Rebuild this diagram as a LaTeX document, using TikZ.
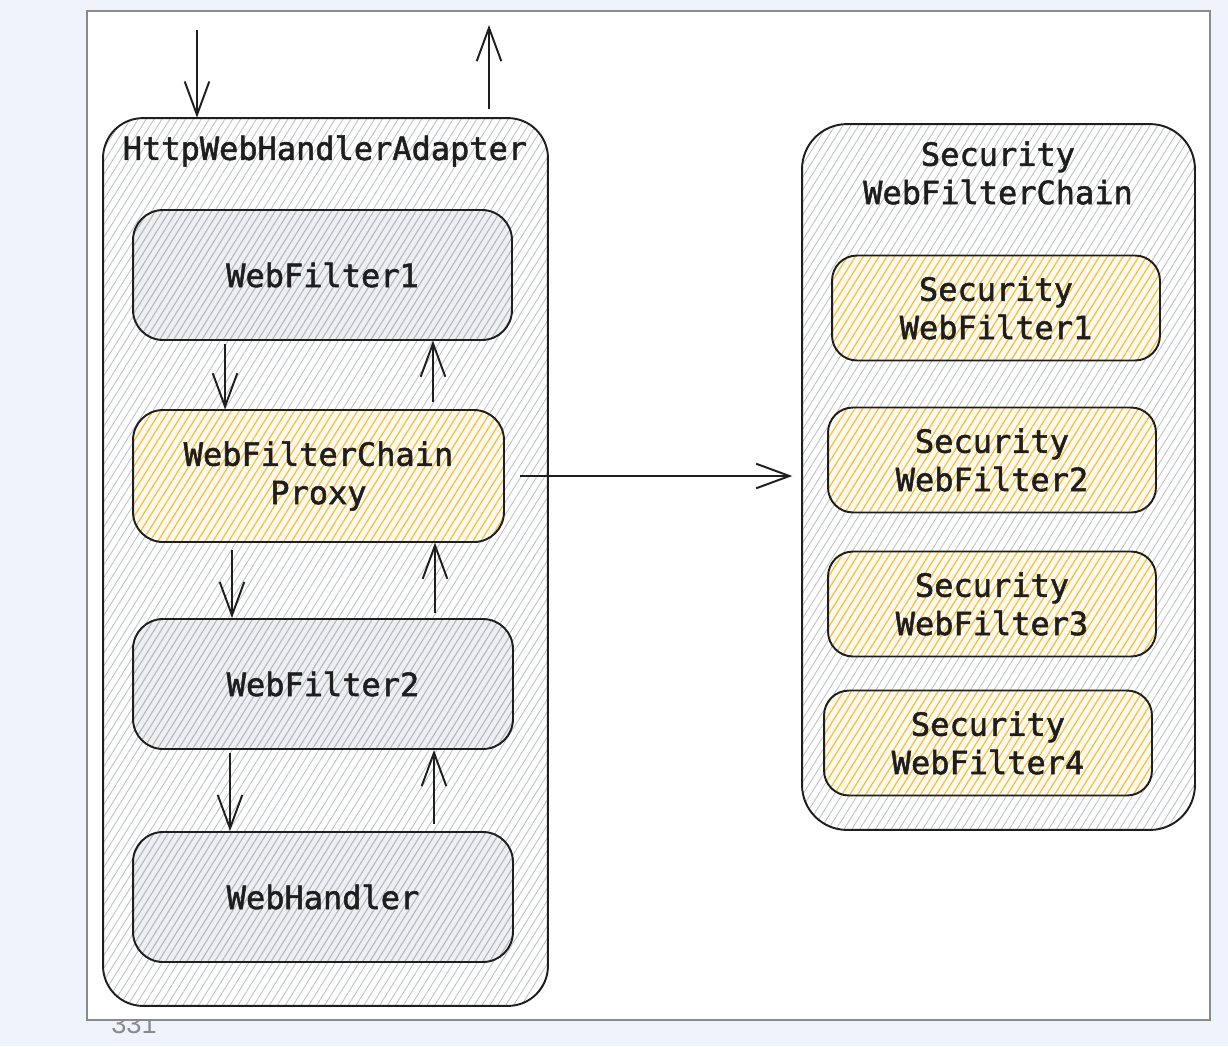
\documentclass[tikz,border=0pt]{standalone}
\usepackage{fontspec}
\setmainfont{Liberation Sans}
\newfontfamily\boxfont[FakeBold=1.6]{DejaVu Sans Mono}
\usetikzlibrary{patterns.meta,arrows.meta}
\definecolor{pagebg}{HTML}{EFF3FB}
\definecolor{framegray}{HTML}{8A8A8A}
\definecolor{hatchgray}{HTML}{BEC2C6}
\definecolor{boxgray}{HTML}{EDEFF1}
\definecolor{boxhatch}{HTML}{B4BAC0}
\definecolor{yhatch}{HTML}{F7BF3C}
\definecolor{ink}{HTML}{1E1E1E}
\tikzset{
  x=0.02cm, y=-0.02cm,
  lbl/.style={font=\boxfont\fontsize{18.2}{21.8}\selectfont, text=ink, align=center, inner sep=0pt},
  outerbox/.style={draw=ink, line width=1.1pt, rounded corners=0.8cm,
     pattern={Lines[angle=58,distance=3.8pt,line width=0.5pt]}, pattern color=hatchgray,
     preaction={fill=white}, inner sep=0pt},
  graybox/.style={draw=ink, line width=1.1pt, rounded corners=0.6cm,
     pattern={Lines[angle=58,distance=3.4pt,line width=0.65pt]}, pattern color=boxhatch,
     preaction={fill=boxgray}, lbl},
  yellowbox/.style={draw=ink, line width=1.1pt, rounded corners=0.5cm,
     pattern={Lines[angle=58,distance=3.8pt,line width=0.7pt]}, pattern color=yhatch,
     preaction={fill=yhatch!8}, lbl},
  arr/.style={draw=ink, line width=1.1pt, -{Straight Barb[length=19pt,width=14pt,line width=1.1pt]}},
}
\begin{document}
\begin{tikzpicture}
\useasboundingbox (0,0) rectangle (1228,1046);
\fill[pagebg] (0,0) rectangle (1228,1046);
% page number behind frame
\node[anchor=base, text=framegray, font=\fontsize{15.5}{17}\selectfont, inner sep=0pt] (pagenum) at (134,1033) {331};
\draw[framegray, line width=0.8pt, fill=white] (87,11) rectangle (1210,1020);

% left container
\node[outerbox, minimum width=8.9cm, minimum height=17.76cm] (adapter) at (325.5,562) {};
\node[lbl] (adaptertitle) at (325,151) {HttpWebHandlerAdapter};

\node[graybox, minimum width=7.58cm, minimum height=2.6cm] (wf1) at (322.5,275) {WebFilter1};
\node[yellowbox, rounded corners=0.6cm, minimum width=7.42cm, minimum height=2.64cm] (proxy) at (318.5,476) {WebFilterChain\\Proxy};
\node[graybox, minimum width=7.6cm, minimum height=2.6cm] (wf2) at (323,684) {WebFilter2};
\node[graybox, minimum width=7.6cm, minimum height=2.6cm] (handler) at (323,897) {WebHandler};

% right container
\node[outerbox, rounded corners=0.9cm, minimum width=7.86cm, minimum height=14.12cm] (chain) at (998.5,477) {};
\node[lbl] (chaintitle) at (998,173) {Security\\WebFilterChain};

\node[yellowbox, minimum width=6.56cm, minimum height=2.1cm] (swf1) at (996,308) {Security\\WebFilter1};
\node[yellowbox, minimum width=6.56cm, minimum height=2.1cm] (swf2) at (992,460) {Security\\WebFilter2};
\node[yellowbox, minimum width=6.56cm, minimum height=2.1cm] (swf3) at (992,604) {Security\\WebFilter3};
\node[yellowbox, minimum width=6.56cm, minimum height=2.1cm] (swf4) at (988,743) {Security\\WebFilter4};

% entry / exit arrows
\coordinate (inTop) at (197,30);
\coordinate (outTop) at (489,25);
\draw[arr] (inTop) -- (adapter.north -| inTop);
\draw[arr, shorten <=5pt] (adapter.north -| outTop) -- (outTop);

% down arrows
\draw[arr, shorten <=2pt] (wf1.south -| 225,0) -- (proxy.north -| 225,0);
\draw[arr, shorten <=4pt] (proxy.south -| 232,0) -- (wf2.north -| 232,0);
\draw[arr, shorten <=2pt] (wf2.south -| 230,0) -- (handler.north -| 230,0);
% up arrows
\draw[arr, shorten <=4pt] (proxy.north -| 433,0) -- (wf1.south -| 433,0);
\draw[arr, shorten <=3pt] (wf2.north -| 435,0) -- (proxy.south -| 435,0);
\draw[arr, shorten <=4pt] (handler.north -| 434,0) -- (wf2.south -| 434,0);

% to security chain
\draw[arr, shorten <=9pt, shorten >=5pt] (proxy.east) -- (chain.west |- proxy.east);
\end{tikzpicture}
\end{document}
